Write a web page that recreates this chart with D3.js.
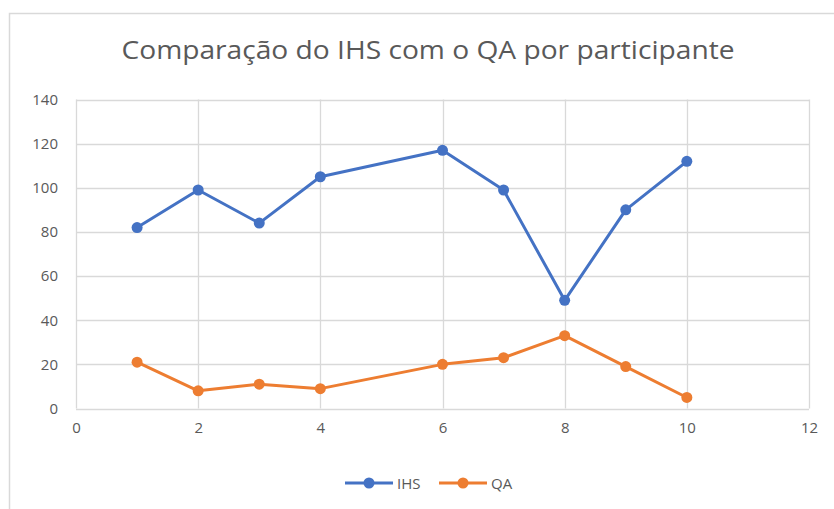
<!DOCTYPE html>
<html>
<head>
<meta charset="utf-8">
<script src="https://cdn.jsdelivr.net/npm/d3@7"></script>
<style>
  body { margin: 0; background: #fff; }
  text { font-family: "Open Sans", "Noto Sans", sans-serif; fill: #595959; }
</style>
</head>
<body>
<script>
var width = 834,
  height = 509;

// data
var participants = [1, 2, 3, 4, 6, 7, 8, 9, 10];
var ihsValues = [82, 99, 84, 105, 117, 99, 49, 90, 112];
var qaValues = [21, 8, 11, 9, 20, 23, 33, 19, 5];
var seriesNames = ["IHS", "QA"];
var seriesColors = ["#4472c4", "#ed7d31"];
var xTicks = [0, 2, 4, 6, 8, 10, 12];
var yTicks = [0, 20, 40, 60, 80, 100, 120, 140];
var chartTitle = "Comparação do IHS com o QA por participante";

var scaleX = d3.scaleLinear()
                  .domain([0, 12])
                  .range([76, 809]);

var scaleY = d3.scaleLinear()
                  .domain([0, 140])
                  .range([408.5, 99.5]);

function drawFrame(svg) {
  svg.append("rect")
      .attr("x", 9.5)
      .attr("y", 13.5)
      .attr("width", width)
      .attr("height", height)
      .style("fill", "none")
      .style("stroke", "#d9d9d9")
      .style("stroke-width", 1.5);

  var title = svg.append("text")
      .attr("x", 428)
      .attr("y", 59)
      .attr("text-anchor", "middle")
      .style("font-size", "25px")
      .text(chartTitle);
  title.attr("textLength", 613).attr("lengthAdjust", "spacingAndGlyphs");
}

function drawGrid(svg) {
  svg.selectAll("line.hgrid")
      .data(yTicks)
      .enter()
      .append("line")
      .attr("class", "hgrid")
      .attr("x1", scaleX(0))
      .attr("x2", scaleX(12))
      .attr("y1", function(d) { return Math.round(scaleY(d)) + 0.5; })
      .attr("y2", function(d) { return Math.round(scaleY(d)) + 0.5; })
      .style("stroke", "#d9d9d9")
      .style("stroke-width", 1.3);

  svg.selectAll("line.vgrid")
      .data(xTicks)
      .enter()
      .append("line")
      .attr("class", "vgrid")
      .attr("x1", function(d) { return Math.round(scaleX(d)) + 0.5; })
      .attr("x2", function(d) { return Math.round(scaleX(d)) + 0.5; })
      .attr("y1", scaleY(140))
      .attr("y2", scaleY(0))
      .style("stroke", "#d9d9d9")
      .style("stroke-width", 1.3);

  var yAxis = d3.axisLeft(scaleY).tickValues(yTicks).tickSize(0).tickPadding(18);
  var gy = svg.append("g")
      .attr("transform", "translate(" + scaleX(0) + ",0)")
      .call(yAxis);
  gy.select(".domain").remove();
  gy.selectAll("text").style("font-size", "15px").style("fill", "#595959");

  var xAxis = d3.axisBottom(scaleX).tickValues(xTicks).tickSize(0).tickPadding(14);
  var gx = svg.append("g")
      .attr("transform", "translate(0," + scaleY(0) + ")")
      .call(xAxis);
  gx.select(".domain").remove();
  gx.selectAll("text").style("font-size", "15px").style("fill", "#595959");
}

function drawSeries(svg, values, color) {
  var pts = participants.map(function(p, i) { return [p, values[i]]; });

  var line = d3.line()
      .x(function(d) { return scaleX(d[0]); })
      .y(function(d) { return scaleY(d[1]); });

  svg.append("path")
      .datum(pts)
      .attr("d", line)
      .style("fill", "none")
      .style("stroke", color)
      .style("stroke-width", 3)
      .style("stroke-linejoin", "round");

  svg.append("g")
      .selectAll("circle")
      .data(pts)
      .enter()
      .append("circle")
      .attr("cx", function(d) { return scaleX(d[0]); })
      .attr("cy", function(d) { return scaleY(d[1]); })
      .attr("r", 5.5)
      .style("fill", color);
}

function drawLegend(svg) {
  var legendX = [345, 439];
  var g = svg.selectAll("g.legend")
      .data(seriesNames)
      .enter()
      .append("g")
      .attr("class", "legend")
      .attr("transform", function(d, i) { return "translate(" + legendX[i] + ",483)"; });

  g.append("line")
      .attr("x1", 0)
      .attr("x2", 48)
      .style("stroke", function(d, i) { return seriesColors[i]; })
      .style("stroke-width", 3);

  g.append("circle")
      .attr("cx", 24)
      .attr("r", 5.5)
      .style("fill", function(d, i) { return seriesColors[i]; });

  g.append("text")
      .attr("x", 52)
      .attr("y", 6)
      .style("font-size", "15px")
      .text(function(d) { return d; });
}

var svg = d3.select("body").append("svg")
    .attr("width", width)
    .attr("height", height);

drawFrame(svg);
drawGrid(svg);
drawSeries(svg, ihsValues, seriesColors[0]);
drawSeries(svg, qaValues, seriesColors[1]);
drawLegend(svg);
</script>
</body>
</html>
